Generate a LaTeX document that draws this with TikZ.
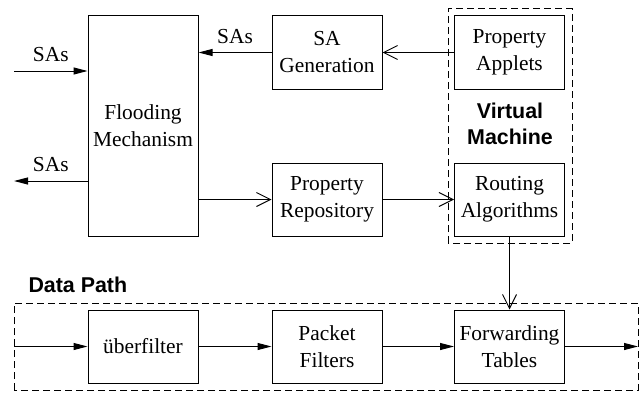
\documentclass[tikz,border=0pt]{standalone}
\usepackage{fontspec}
\setmainfont{Liberation Serif}
\setsansfont{Liberation Sans}
\usetikzlibrary{arrows.meta}

\begin{document}
\begin{tikzpicture}[x=1pt, y=1pt, line width=0.5pt,
    font=\fontsize{10.7}{13.5}\selectfont,
    box/.style={draw, minimum width=55pt, minimum height=36.5pt, align=center, inner sep=0pt},
    group/.style={draw, dash pattern=on 3.5pt off 2pt},
    title/.style={font=\sffamily\bfseries\fontsize{10.7}{13}\selectfont, align=center},
    fillarrow/.style={-{Triangle[length=7pt,width=3.5pt]}},
    openarrow/.style={-{Straight Barb[length=7pt,width=7pt,line width=0.5pt]}}]
        \useasboundingbox (0,0) rectangle (321,196);
        % boxes
        \node[box, minimum height=110pt] (flood) at (71.5,133) {Flooding\\Mechanism};
        \node[box] (sagen) at (163.5,169.75) {SA\\Generation};
        \node[box] (applets) at (254.75,169.75) {Property\\Applets};
        \node[box] (repo) at (163.5,96.25) {Property\\Repository};
        \node[box] (routing) at (254.75,96.25) {Routing\\Algorithms};
        \node[box] (uber) at (71.5,22.75) {überfilter};
        \node[box] (filters) at (163.5,22.75) {Packet\\Filters};
        \node[box] (fwd) at (254.75,22.75) {Forwarding\\Tables};
        % dashed groups
        \draw[group] (224,74.5) rectangle (286,191.5);
        \draw[group] (7,1) rectangle (319,44.5);
        \node[title] (vmlabel) at (255,134) {Virtual\\Machine};
        \node[title, anchor=west, inner sep=0pt] (dplabel) at (14,53.5) {Data Path};
        % free ends
        \coordinate (sain) at (7,160.5);
        \coordinate (saout) at (7,105.5);
        \coordinate (dpin) at (7,22.75);
        \coordinate (dpout) at (319,22.75);
        % connectors
        \draw[fillarrow] (sain) -- (sain -| flood.west) node[midway, above=1pt] {SAs};
        \draw[fillarrow] (saout -| flood.west) -- (saout) node[midway, above=1pt] {SAs};
        \draw[fillarrow] (sagen.west) -- (sagen.west -| flood.east) node[midway, above=1pt] {SAs};
        \draw[openarrow] (applets.west) -- (sagen.east);
        \draw[openarrow] (repo.west -| flood.east) -- (repo.west);
        \draw[openarrow] (repo.east) -- (routing.west);
        \draw[openarrow] (routing.south) -- (fwd.north);
        \draw[fillarrow] (dpin) -- (uber.west);
        \draw[fillarrow] (uber.east) -- (filters.west);
        \draw[fillarrow] (filters.east) -- (fwd.west);
        \draw[fillarrow] (fwd.east) -- (dpout);
\end{tikzpicture}
\end{document}
